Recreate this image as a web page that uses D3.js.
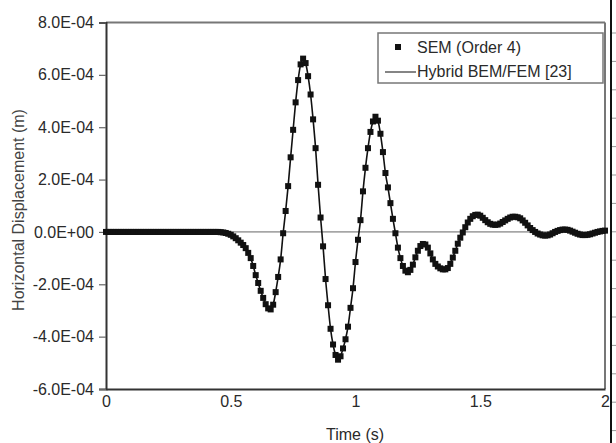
<!DOCTYPE html>
<html>
<head>
<meta charset="utf-8">
<script src="https://cdn.jsdelivr.net/npm/d3@7"></script>
<style>
  html, body { margin: 0; padding: 0; background: #fff; }
  svg { display: block; font-family: "Liberation Sans", Arial, sans-serif; }
</style>
</head>
<body>
<svg id="chart" width="616" height="443"></svg>
<script>
// Horizontal displacement history, in units of 1.0E-04 m, sampled every 0.01 s from 0 to 2 s
const timeStep = 0.01;
const semDisplacement = [
  0, 0, 0, 0, 0, 0, 0, 0, 0, 0,
  0, 0, 0, 0, 0, 0, 0, 0, 0, 0,
  0, 0, 0, 0, 0, 0, 0, 0, 0, 0,
  0, 0, 0, 0, 0, 0, 0, 0, 0, 0,
  0, 0, 0, 0, 0, 0, -0.01, -0.02, -0.04, -0.07,
  -0.11, -0.17, -0.24, -0.32, -0.41, -0.50, -0.62, -0.80, -1.00, -1.30,
  -1.65, -1.95, -2.25, -2.52, -2.76, -2.92, -2.96, -2.78, -2.30, -1.72,
  -1.05, -0.05, 0.80, 1.75, 2.85, 3.90, 4.95, 5.80, 6.40, 6.62,
  6.45, 5.95, 5.25, 4.30, 3.20, 1.80, 0.55, -0.55, -1.80, -2.80,
  -3.70, -4.30, -4.70, -4.88, -4.75, -4.45, -4.10, -3.62, -2.90, -2.15,
  -1.15, -0.30, 0.45, 1.55, 2.45, 3.20, 3.82, 4.22, 4.40, 4.25,
  3.75, 3.05, 2.25, 1.70, 1.10, 0.50, -0.05, -0.60, -1.00, -1.30,
  -1.48, -1.54, -1.45, -1.25, -0.97, -0.72, -0.54, -0.46, -0.48, -0.60,
  -0.82, -1.05, -1.22, -1.32, -1.39, -1.43, -1.43, -1.38, -1.22, -0.98,
  -0.72, -0.45, -0.22, -0.02, 0.18, 0.36, 0.50, 0.60, 0.65, 0.66,
  0.62, 0.54, 0.45, 0.37, 0.31, 0.28, 0.27, 0.28, 0.32, 0.38,
  0.44, 0.50, 0.55, 0.58, 0.58, 0.56, 0.52, 0.44, 0.35, 0.25,
  0.15, 0.07, 0.00, -0.06, -0.10, -0.13, -0.14, -0.13, -0.10, -0.05,
  0.00, 0.04, 0.07, 0.09, 0.09, 0.08, 0.05, 0.01, -0.03, -0.07,
  -0.10, -0.12, -0.12, -0.11, -0.09, -0.06, -0.03, 0.00, 0.02, 0.04,
  0.05
];
// Reference solution curve on the same time grid
const hybridDisplacement = semDisplacement.slice();

const xTicks = [0, 0.5, 1, 1.5, 2];
const xTickLabels = ["0", "0.5", "1", "1.5", "2"];
const yTicks = [-6, -4, -2, 0, 2, 4, 6, 8];
const yTickLabels = ["-6.0E-04", "-4.0E-04", "-2.0E-04", "0.0E+00", "2.0E-04", "4.0E-04", "6.0E-04", "8.0E-04"];
const seriesNames = ["SEM (Order 4)", "Hybrid BEM/FEM [23]"];

const svg = d3.select("#chart");
const plot = { left: 106, right: 605, top: 22.5, bottom: 389 };

const x = d3.scaleLinear().domain([0, 2]).range([plot.left, plot.right]);
const y = d3.scaleLinear().domain([-6, 8]).range([plot.bottom, plot.top]);

const semPoints = semDisplacement.map((v, i) => [i * timeStep, v]);
const hybridPoints = hybridDisplacement.map((v, i) => [i * timeStep, v]);

// Neighbouring panel edge at the far right
svg.append("line")
  .attr("x1", 611).attr("x2", 611).attr("y1", 0).attr("y2", 443)
  .attr("stroke", "#111").attr("stroke-width", 2);
d3.range(33, 443, 28.4).forEach(yy => {
  svg.append("line")
    .attr("x1", 612).attr("x2", 616).attr("y1", yy).attr("y2", yy)
    .attr("stroke", "#999").attr("stroke-width", 1);
});

// Frame: top and right borders in grey
svg.append("line")
  .attr("x1", plot.left).attr("x2", plot.right).attr("y1", plot.top).attr("y2", plot.top)
  .attr("stroke", "#777").attr("stroke-width", 2);
svg.append("line")
  .attr("x1", plot.right).attr("x2", plot.right).attr("y1", plot.top).attr("y2", plot.bottom)
  .attr("stroke", "#777").attr("stroke-width", 2);

// Zero reference line
svg.append("line")
  .attr("x1", plot.left).attr("x2", plot.right).attr("y1", y(0)).attr("y2", y(0))
  .attr("stroke", "#666").attr("stroke-width", 1);

// Y axis
const yAxis = d3.axisLeft(y).tickValues(yTicks)
  .tickFormat((d, i) => yTickLabels[i]).tickSize(7).tickPadding(5);
const gy = svg.append("g").attr("transform", `translate(${plot.left},0)`).call(yAxis);
gy.select(".domain").attr("stroke", "#333").attr("stroke-width", 2);
gy.selectAll(".tick line").attr("stroke", "#666").attr("stroke-width", 1.2);
gy.selectAll(".tick text")
  .attr("font-size", 16).attr("fill", "#2a2a2a")
  .attr("font-family", "Liberation Sans, Arial, sans-serif");

// X axis
const xAxis = d3.axisBottom(x).tickValues(xTicks)
  .tickFormat((d, i) => xTickLabels[i]).tickSize(0).tickPadding(7);
const gx = svg.append("g").attr("transform", `translate(0,${plot.bottom})`).call(xAxis);
gx.select(".domain").attr("stroke", "#333").attr("stroke-width", 2);
gx.selectAll(".tick text")
  .attr("font-size", 16).attr("fill", "#2a2a2a")
  .attr("font-family", "Liberation Sans, Arial, sans-serif");

// Axis titles
svg.append("text")
  .attr("transform", `translate(24,210) rotate(-90)`)
  .attr("text-anchor", "middle").attr("font-size", 16).attr("fill", "#444")
  .text("Horizontal Displacement (m)");
svg.append("text")
  .attr("x", 355).attr("y", 440)
  .attr("text-anchor", "middle").attr("font-size", 16).attr("fill", "#2a2a2a")
  .text("Time (s)");

// Hybrid BEM/FEM curve
const line = d3.line().x(d => x(d[0])).y(d => y(d[1])).curve(d3.curveMonotoneX);
svg.append("path")
  .datum(hybridPoints)
  .attr("d", line)
  .attr("fill", "none").attr("stroke", "#111").attr("stroke-width", 1.6);

// SEM markers
const ms = 6;
svg.append("g").selectAll("rect")
  .data(semPoints)
  .join("rect")
  .attr("x", d => x(d[0]) - ms / 2)
  .attr("y", d => y(d[1]) - ms / 2)
  .attr("width", ms).attr("height", ms)
  .attr("fill", "#111");

// Legend
const lg = svg.append("g");
lg.append("rect")
  .attr("x", 378).attr("y", 33).attr("width", 225).attr("height", 50)
  .attr("fill", "#fff").attr("stroke", "#777").attr("stroke-width", 1.5);
lg.append("rect")
  .attr("x", 398 - ms / 2).attr("y", 47 - ms / 2).attr("width", ms).attr("height", ms)
  .attr("fill", "#111");
lg.append("text")
  .attr("x", 417).attr("y", 53).attr("font-size", 16).attr("fill", "#2a2a2a")
  .text(seriesNames[0]);
lg.append("line")
  .attr("x1", 385).attr("x2", 416).attr("y1", 72).attr("y2", 72)
  .attr("stroke", "#333").attr("stroke-width", 1.2);
lg.append("text")
  .attr("x", 417).attr("y", 77).attr("font-size", 16).attr("fill", "#2a2a2a")
  .text(seriesNames[1]);
</script>
</body>
</html>
